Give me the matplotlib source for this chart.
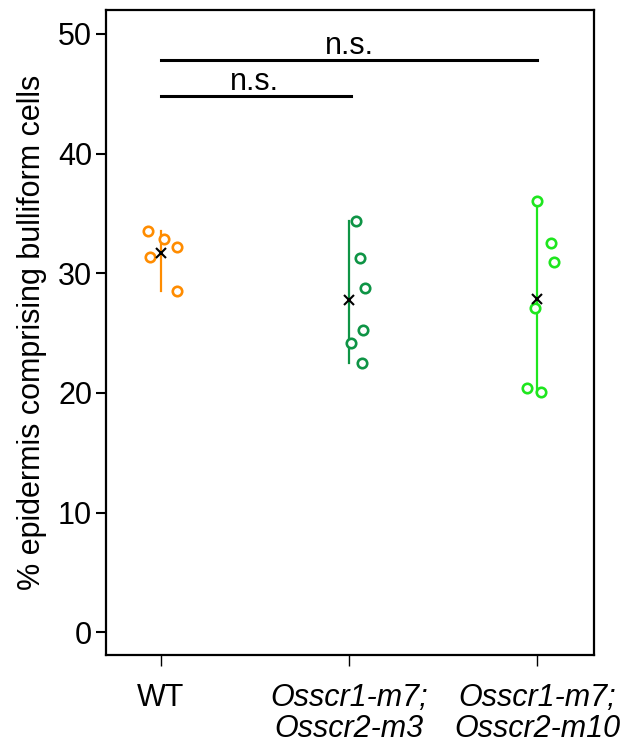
import matplotlib.pyplot as plt
import numpy as np

plt.rcParams['font.family'] = ['Liberation Sans', 'DejaVu Sans']

# values
groups = ["WT", "Osscr1-m7;\nOsscr2-m3", "Osscr1-m7;\nOsscr2-m10"]
colors = ["#FF8C00", "#0E9445", "#1EE61E"]
wt_vals = [33.5, 32.9, 32.2, 31.4, 28.5]
wt_jit = [-0.069, 0.016, 0.085, -0.058, 0.085]
m3_vals = [34.4, 31.3, 28.8, 25.3, 24.2, 22.5]
m3_jit = [0.037, 0.058, 0.085, 0.074, 0.011, 0.069]
m10_vals = [36.0, 32.5, 30.9, 27.1, 20.4, 20.1]
m10_jit = [-0.005, 0.074, 0.090, -0.011, -0.058, 0.021]
yticks = [0, 10, 20, 30, 40, 50]

data = [wt_vals, m3_vals, m10_vals]
jits = [wt_jit, m3_jit, m10_jit]

fig = plt.figure(figsize=(6.34, 7.44), dpi=100)
ax = fig.add_axes([0.1672, 0.1196, 0.7697, 0.867])

for i, (vals, jit, c) in enumerate(zip(data, jits, colors)):
    pos = i + 1
    ax.plot([pos, pos], [min(vals), max(vals)], color=c, lw=1.6, zorder=2)
    ax.plot(pos + np.array(jit), vals, 'o', ms=6.8, mfc='white', mec=c, mew=1.9, zorder=3)
    ax.plot(pos, np.mean(vals), 'x', color='black', ms=6.5, mew=1.5, zorder=4)

# significance bars
ax.plot([1, 3], [47.8, 47.8], color='black', lw=2.2)
ax.text(2, 47.75, "n.s.", ha='center', va='bottom', fontsize=22)
ax.plot([1, 2.01], [44.8, 44.8], color='black', lw=2.2)
ax.text(1.5, 44.75, "n.s.", ha='center', va='bottom', fontsize=22)

ax.set_xlim(0.71, 3.30)
ax.set_ylim(-1.9, 52)
ax.set_yticks(yticks)
ax.set_yticklabels([str(t) for t in yticks], fontsize=22)
ax.set_xticks([1, 2, 3])
ax.set_xticklabels(groups, fontsize=22, linespacing=1.05)
for lab in ax.get_xticklabels()[1:]:
    lab.set_style('italic')
ax.tick_params(axis='y', length=7, width=1.5, pad=3)
ax.tick_params(axis='x', length=8, width=1.0, pad=12)
for s in ax.spines.values():
    s.set_linewidth(1.6)
ax.set_ylabel("% epidermis comprising bulliform cells", fontsize=22, labelpad=8)

fig.savefig("out.png", dpi=100)
